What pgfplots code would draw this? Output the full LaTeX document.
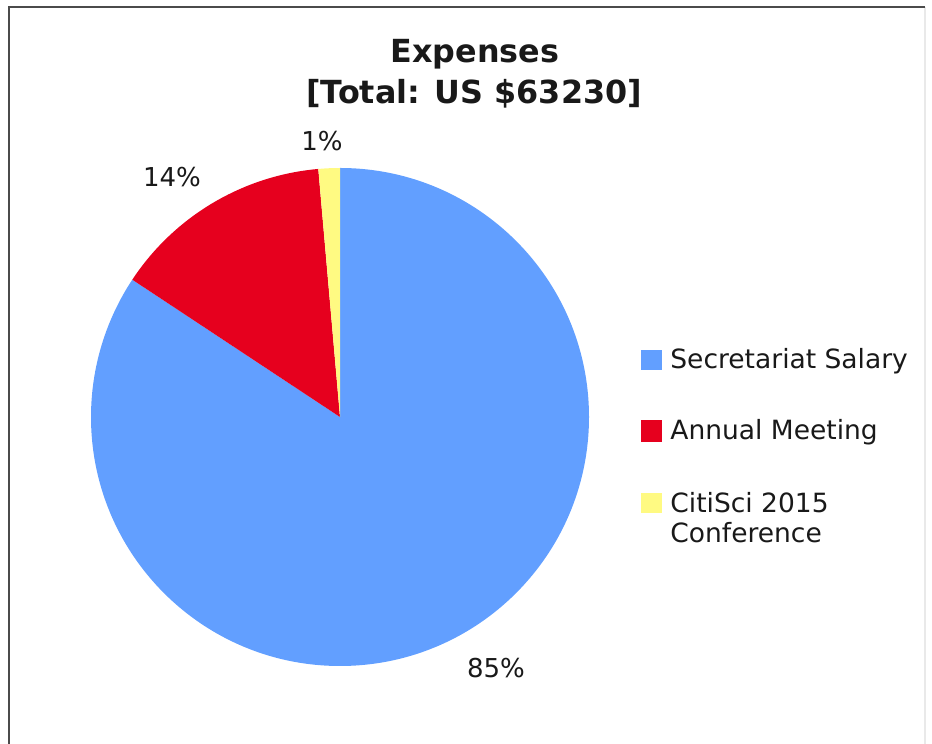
\documentclass[border=0pt]{standalone}
\usepackage{pgfplots}
\usepackage{pgfplotstable}
\pgfplotsset{compat=1.18}
\usepackage{fontspec}
\setmainfont{DejaVu Sans}

\definecolor{pieblue}{RGB}{98,159,255}
\definecolor{piered}{RGB}{230,0,30}
\definecolor{pieyellow}{RGB}{255,250,130}
\definecolor{txt}{RGB}{25,25,25}
\definecolor{frame}{RGB}{75,75,75}

% expenses in US$, total 63230
\pgfplotstableread{
amount
53300
9050
880
}\expenses

\begin{document}
\begin{tikzpicture}
\useasboundingbox (0,0) rectangle (466pt,372pt);
% slice angles, clockwise from 12 o'clock
\pgfplotstablegetelem{0}{amount}\of\expenses \let\va\pgfplotsretval
\pgfplotstablegetelem{1}{amount}\of\expenses \let\vb\pgfplotsretval
\pgfplotstablegetelem{2}{amount}\of\expenses \let\vc\pgfplotsretval
\pgfkeys{/pgf/fpu=true, /pgf/fpu/output format=fixed}
\pgfmathsetmacro\tot{\va+\vb+\vc}
\pgfmathsetmacro\aB{90-360*\va/\tot}
\pgfmathsetmacro\aC{\aB-360*\vb/\tot}
\pgfmathsetmacro\aD{\aC-360*\vc/\tot}
\pgfkeys{/pgf/fpu=false}
\begin{axis}[
    at={(0,0)}, anchor=origin,
    x=0.5pt, y=0.5pt,
    xmin=0, xmax=932, ymin=0, ymax=744,
    hide axis, clip=false,
]
% frame
\draw[frame!12, line width=0.6pt] (axis cs:925,737) -- (axis cs:925,-20);
\draw[frame, line width=1.3pt] (axis cs:9,-20) -- (axis cs:9,737) -- (axis cs:925,737);

% pie
\fill[pieblue] (axis cs:340,327) -- ++(90:124.5pt)
    arc[start angle=90, end angle=\aB, radius=124.5pt] -- cycle;
\fill[piered] (axis cs:340,327) -- ++(\aB:124.5pt)
    arc[start angle=\aB, end angle=\aC, radius=124.5pt] -- cycle;
\fill[pieyellow] (axis cs:340,327) -- ++(\aC:124.5pt)
    arc[start angle=\aC, end angle=\aD, radius=124.5pt] -- cycle;

% percentages
\node[txt, anchor=base, font=\fontsize{13}{15}\selectfont] at (axis cs:496,66) {85\%};
\node[txt, anchor=base, font=\fontsize{13}{15}\selectfont] at (axis cs:172,557) {14\%};
\node[txt, anchor=base, font=\fontsize{13}{15}\selectfont] at (axis cs:322,593) {1\%};

% title
\node[txt, anchor=base, font=\fontsize{15.9}{19}\selectfont\bfseries] at (axis cs:475,681) {Expenses};
\node[txt, anchor=base, font=\fontsize{15.9}{19}\selectfont\bfseries] at (axis cs:474,640) {[Total: US \$63230]};

% legend
\fill[pieblue] (axis cs:641,374) rectangle (axis cs:662,394);
\fill[piered] (axis cs:641,302) rectangle (axis cs:662,324);
\fill[pieyellow] (axis cs:641,231) rectangle (axis cs:662,251);
\node[txt, anchor=base west, inner sep=0pt, font=\fontsize{13.25}{15}\selectfont] at (axis cs:670,375) {Secretariat Salary};
\node[txt, anchor=base west, inner sep=0pt, font=\fontsize{13.25}{15}\selectfont] at (axis cs:670,304) {Annual Meeting};
\node[txt, anchor=base west, inner sep=0pt, font=\fontsize{13.25}{15}\selectfont] at (axis cs:670,231) {CitiSci 2015};
\node[txt, anchor=base west, inner sep=0pt, font=\fontsize{13.25}{15}\selectfont] at (axis cs:670,201) {Conference};
\end{axis}
\end{tikzpicture}
\end{document}
